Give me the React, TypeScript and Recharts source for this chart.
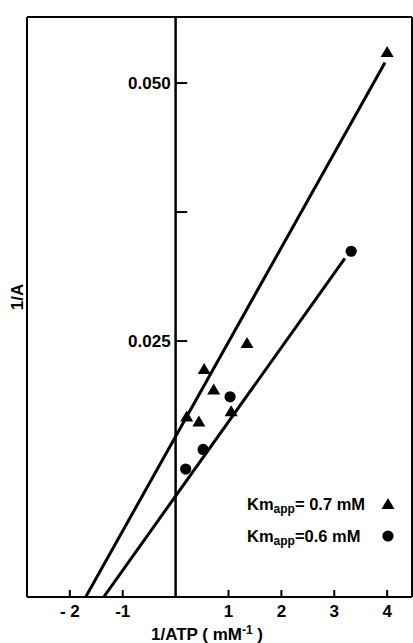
import React from 'react';
import { ScatterChart, Scatter, XAxis, YAxis, ReferenceLine, Legend } from 'recharts';

const xTicks = [-2, -1, 1, 2, 3, 4];
const xTickLabels = ['- 2', '-1', '1', '2', '3', '4'];
const yTicks = [0.025, 0.0375, 0.05];
const yTickLabels = ['0.025', '', '0.050'];
const xDomain = [-2.81, 4.47];
const yDomain = [0.0002, 0.0564];

const triangleData = [
  { x: 0.21, y: 0.0177 },
  { x: 0.44, y: 0.0172 },
  { x: 0.54, y: 0.0223 },
  { x: 0.72, y: 0.0203 },
  { x: 1.05, y: 0.0182 },
  { x: 1.35, y: 0.0248 },
  { x: 4.0, y: 0.053 },
];
const circleData = [
  { x: 0.19, y: 0.0126 },
  { x: 0.52, y: 0.0145 },
  { x: 1.03, y: 0.0196 },
  { x: 3.32, y: 0.0337 },
];
const triangleFit = [
  { x: -1.7, y: 0.0002 },
  { x: 3.96, y: 0.052 },
];
const circleFit = [
  { x: -1.36, y: 0.0002 },
  { x: 3.2, y: 0.033 },
];
const legendItems = [
  { text: '= 0.7 mM', symbol: 'triangle' },
  { text: '=0.6 mM', symbol: 'circle' },
];

const FONT = '"Liberation Sans", Arial, sans-serif';

const Triangle = (props: any) => {
  const { cx, cy } = props;
  if (cx == null || cy == null) return <g />;
  return <polygon points={`${cx},${cy - 6} ${cx + 6.5},${cy + 5} ${cx - 6.5},${cy + 5}`} fill="#000" />;
};
const Dot = (props: any) => {
  const { cx, cy } = props;
  if (cx == null || cy == null) return <g />;
  return <circle cx={cx} cy={cy} r={5.6} fill="#000" />;
};
const NoShape = () => <g />;

const XTick = (props: any) => {
  const { x, y, index } = props;
  return (
    <g>
      <line x1={x} x2={x} y1={y} y2={y - 7} stroke="#000" strokeWidth={2} />
      <text x={x} y={y + 20} textAnchor="middle" fontFamily={FONT} fontWeight={700} fontSize={17} fill="#000">
        {xTickLabels[index]}
      </text>
    </g>
  );
};

const LegendContent = () => (
  <div style={{ fontFamily: FONT, fontWeight: 700, fontSize: 16.5, color: '#000' }}>
    {legendItems.map((it, i) => (
      <div key={i} style={{ position: 'relative', height: 32, lineHeight: '32px', whiteSpace: 'nowrap' }}>
        <span>
          Km<sub style={{ fontSize: 12, verticalAlign: '-3px' }}>app</sub>
          {it.text}
        </span>
        <svg width={14} height={14} style={{ position: 'absolute', left: 134, top: 9 }}>
          {it.symbol === 'triangle' ? (
            <polygon points="7,1 13.5,12 0.5,12" fill="#000" />
          ) : (
            <circle cx={7} cy={7} r={5.6} fill="#000" />
          )}
        </svg>
      </div>
    ))}
  </div>
);

export default function App() {
  return (
    <div style={{ position: 'absolute', left: 0, top: 0, background: '#fff' }}>
      <ScatterChart width={413} height={643} margin={{ top: 17, right: 1, bottom: 0, left: 0 }}>
        <XAxis
          type="number"
          dataKey="x"
          domain={xDomain}
          ticks={xTicks}
          allowDataOverflow
          height={46}
          tickSize={0}
          tickMargin={0}
          tickLine={false}
          axisLine={{ stroke: '#000', strokeWidth: 2 }}
          tick={<XTick />}
          interval={0}
          label={{
            content: () => (
              <text x={207} y={640} textAnchor="middle" fontFamily={FONT} fontWeight={700} fontSize={17} fill="#000">
                1/ATP ( mM
                <tspan dy={-6} fontSize={12}>-1</tspan>
                <tspan dy={6}> )</tspan>
              </text>
            ),
          }}
        />
        <YAxis
          type="number"
          dataKey="y"
          domain={yDomain}
          ticks={yTicks}
          allowDataOverflow
          width={27}
          tick={false}
          tickLine={false}
          axisLine={{ stroke: '#000', strokeWidth: 2 }}
          label={{
            content: () => (
              <text x={23} y={297} transform="rotate(-90 23 297)" textAnchor="middle" fontFamily={FONT} fontWeight={700} fontSize={17} fill="#000">
                1/A
              </text>
            ),
          }}
        />
        <ReferenceLine y={yDomain[1]} stroke="#000" strokeWidth={2} ifOverflow="visible" />
        <ReferenceLine x={xDomain[1]} stroke="#000" strokeWidth={2} ifOverflow="visible" />
        <ReferenceLine x={0} stroke="#000" strokeWidth={2.5} ifOverflow="visible" />
        {yTicks.map((v, i) => (
          <ReferenceLine
            key={'yt' + i}
            segment={[{ x: 0, y: v }, { x: 0.22, y: v }]}
            stroke="#000"
            strokeWidth={2}
            ifOverflow="visible"
            label={{
              value: yTickLabels[i],
              position: 'left',
              offset: 5,
              fill: '#000',
              fontSize: 17,
              fontWeight: 700,
              fontFamily: FONT,
            }}
          />
        ))}
        <Scatter data={triangleFit} line={{ stroke: '#000', strokeWidth: 3 }} lineType="joint" shape={NoShape} legendType="none" isAnimationActive={false} />
        <Scatter data={circleFit} line={{ stroke: '#000', strokeWidth: 3 }} lineType="joint" shape={NoShape} legendType="none" isAnimationActive={false} />
        <Scatter name="Km 0.7" data={triangleData} shape={Triangle} isAnimationActive={false} />
        <Scatter name="Km 0.6" data={circleData} shape={Dot} isAnimationActive={false} />
        <Legend
          layout="vertical"
          align="center"
          verticalAlign="middle"
          content={<LegendContent />}
          wrapperStyle={{ position: 'absolute', left: 247, top: 488, width: 160, height: 64 }}
        />
      </ScatterChart>
    </div>
  );
}
